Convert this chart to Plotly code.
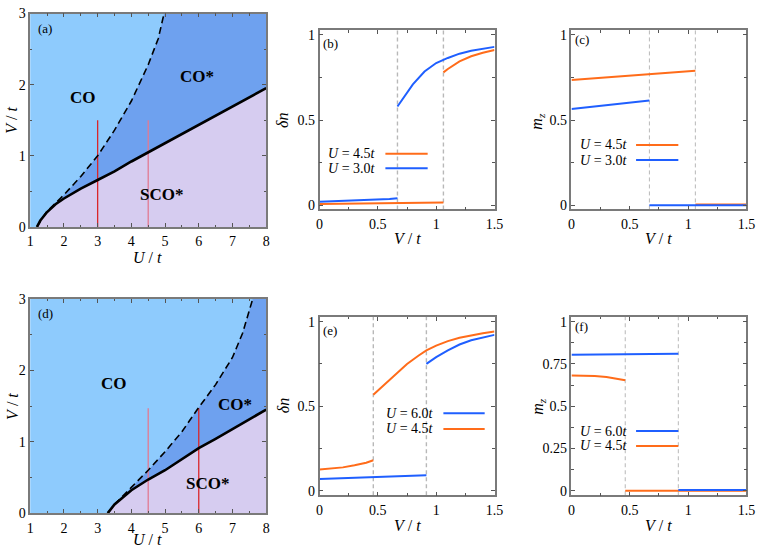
import plotly.graph_objects as go

# ---------------- Data ----------------
# Panel (a): phase boundaries, U/t vs V/t
a_solid_U = [1.2, 1.3, 1.5, 1.75, 2.0, 2.5, 3.0, 3.5, 4.0, 4.5, 5.0, 6.0, 7.0, 8.0]
a_solid_V = [0.0, 0.09, 0.21, 0.32, 0.40, 0.54, 0.66, 0.78, 0.92, 1.05, 1.17, 1.43, 1.69, 1.95]
a_dash_U = [1.2, 1.3, 1.5, 1.75, 2.0, 2.5, 3.0, 3.5, 4.0, 4.5, 4.8, 4.97]
a_dash_V = [0.0, 0.09, 0.22, 0.34, 0.45, 0.71, 1.0, 1.36, 1.77, 2.28, 2.65, 3.0]
a_cuts_U = [3.0, 4.5]
a_cut_Vmax = 1.5

# Panel (d): phase boundaries
d_solid_U = [3.3, 3.5, 4.0, 4.5, 5.0, 5.5, 6.0, 6.5, 7.0, 7.5, 8.0]
d_solid_V = [0.0, 0.12, 0.32, 0.47, 0.60, 0.76, 0.91, 1.04, 1.18, 1.32, 1.45]
d_dash_U = [3.3, 3.5, 4.0, 4.5, 5.0, 5.5, 6.0, 6.5, 7.0, 7.3, 7.6]
d_dash_V = [0.0, 0.12, 0.36, 0.60, 0.86, 1.14, 1.48, 1.80, 2.18, 2.52, 3.0]
d_cuts_U = [4.5, 6.0]
d_cut_Vmax = 1.47

# Panel (b): delta n vs V/t  (U=3.0t, U=4.5t)
b_Vc_30 = 0.668
b_Vc_45 = 1.062
b30_lo_V = [0.0, 0.2, 0.4, 0.6, 0.668]
b30_lo_dn = [0.020, 0.024, 0.029, 0.036, 0.040]
b30_hi_V = [0.668, 0.75, 0.8, 0.9, 1.0, 1.1, 1.2, 1.3, 1.4, 1.5]
b30_hi_dn = [0.580, 0.665, 0.710, 0.785, 0.835, 0.865, 0.890, 0.907, 0.920, 0.930]
b45_lo_V = [0.0, 0.5, 1.062]
b45_lo_dn = [0.007, 0.011, 0.015]
b45_hi_V = [1.062, 1.1, 1.2, 1.3, 1.4, 1.5]
b45_hi_dn = [0.780, 0.800, 0.845, 0.875, 0.895, 0.912]

# Panel (c): m_z vs V/t
c45_lo_V = [0.0, 0.5, 1.062]
c45_lo_m = [0.735, 0.760, 0.789]
c45_hi_V = [1.062, 1.5]
c45_hi_m = [0.004, 0.004]
c30_lo_V = [0.0, 0.3, 0.668]
c30_lo_m = [0.565, 0.588, 0.615]
c30_hi_V = [0.668, 1.5]
c30_hi_m = [0.0, 0.0]

# Panel (e): delta n vs V/t (U=6.0t, U=4.5t)
e_Vc_45 = 0.461
e_Vc_60 = 0.916
e45_lo_V = [0.0, 0.1, 0.2, 0.3, 0.4, 0.461]
e45_lo_dn = [0.125, 0.130, 0.138, 0.150, 0.165, 0.180]
e45_hi_V = [0.461, 0.55, 0.65, 0.75, 0.85, 0.916, 1.0, 1.1, 1.2, 1.3, 1.4, 1.5]
e45_hi_dn = [0.568, 0.625, 0.690, 0.750, 0.800, 0.830, 0.858, 0.885, 0.905, 0.920, 0.932, 0.942]
e60_lo_V = [0.0, 0.5, 0.916]
e60_lo_dn = [0.069, 0.080, 0.092]
e60_hi_V = [0.916, 1.0, 1.1, 1.2, 1.3, 1.4, 1.5]
e60_hi_dn = [0.750, 0.790, 0.830, 0.865, 0.890, 0.908, 0.922]

# Panel (f): m_z vs V/t
f60_lo_V = [0.0, 0.5, 0.916]
f60_lo_m = [0.804, 0.808, 0.810]
f60_hi_V = [0.916, 1.5]
f60_hi_m = [0.004, 0.004]
f45_lo_V = [0.0, 0.1, 0.2, 0.3, 0.4, 0.461]
f45_lo_m = [0.681, 0.681, 0.678, 0.672, 0.662, 0.653]
f45_hi_V = [0.461, 1.5]
f45_hi_m = [0.0, 0.0]

U_RANGE = [1, 8]
V_RANGE = [0, 3]

# ---------------- Style ----------------
FONT = "Liberation Serif"
C_CO = "#8ecbfd"
C_COS = "#6ea1ef"
C_SCO = "#d6ccf0"
ORANGE = "#ff6c1a"
BLUE = "#1f5fff"
RED = "#d9262a"
PINK = "#e27a92"
W, H = 764, 560


def px(x):
    return x / W


def py(y):
    return 1 - y / H


fig = go.Figure()

boxes = {
    1: ((26.7, 266.7), (6.7, 226.0)),
    2: ((321.0, 499.0), (24.0, 208.0)),
    3: ((577.3, 755.3), (24.0, 208.0)),
    4: ((26.7, 266.7), (300.0, 520.0)),
    5: ((321.0, 499.0), (318.3, 501.7)),
    6: ((577.3, 755.3), (318.3, 501.7)),
}


def axis_style(rng, dtick, minor_dtick, is_x):
    d = dict(
        range=rng, dtick=dtick, tick0=0,
        showline=True, linecolor="#7a7a7a", linewidth=1.5, mirror="allticks",
        ticks="inside", ticklen=4, tickwidth=1, tickcolor="#555555",
        showgrid=False, zeroline=False,
        tickfont=dict(family=FONT, size=14, color="black"),
        minor=dict(dtick=minor_dtick, tick0=0, ticks="inside", ticklen=2.5,
                   tickwidth=1, tickcolor="#555555", showgrid=False),
    )
    if is_x:
        d["ticklabelstandoff"] = 1
    return d


specs = {
    1: (U_RANGE, 1, 0.5, V_RANGE, 1, 0.5),
    2: ([0, 1.5], 0.5, 0.25, [-0.025, 1.027], 0.5, 0.25),
    3: ([0, 1.5], 0.5, 0.25, [-0.025, 1.027], 0.5, 0.25),
    4: (U_RANGE, 1, 0.5, V_RANGE, 1, 0.5),
    5: ([0, 1.5], 0.5, 0.25, [-0.027, 1.029], 0.5, 0.25),
    6: ([0, 1.5], 0.5, 0.25, [-0.027, 1.029], 0.25, 0.125),
}

layout_axes = {}
for i, ((x0, x1), (y0, y1)) in boxes.items():
    xr, xd, xm, yr, yd, ym = specs[i]
    xa = axis_style(xr, xd, xm, True)
    ya = axis_style(yr, yd, ym, False)
    xa.update(domain=[px(x0), px(x1)], anchor=f"y{'' if i == 1 else i}")
    ya.update(domain=[py(y1), py(y0)], anchor=f"x{'' if i == 1 else i}")
    layout_axes[f"xaxis{'' if i == 1 else i}"] = xa
    layout_axes[f"yaxis{'' if i == 1 else i}"] = ya


def ax(i):
    s = "" if i == 1 else str(i)
    return dict(xaxis="x" + s, yaxis="y" + s)


shapes = []
annotations = []


def note(x, y, text, size, xref="paper", yref="paper", xanchor="center", angle=0):
    annotations.append(dict(x=x, y=y, xref=xref, yref=yref, text=text, showarrow=False,
                            xanchor=xanchor, yanchor="middle", textangle=angle,
                            font=dict(family=FONT, size=size, color="black")))


# ---------- Phase diagrams ----------
for i, (sU, sV, dU, dV, cuts, cutV, cut_cols) in {
    1: (a_solid_U, a_solid_V, a_dash_U, a_dash_V, a_cuts_U, a_cut_Vmax, [RED, PINK]),
    4: (d_solid_U, d_solid_V, d_dash_U, d_dash_V, d_cuts_U, d_cut_Vmax, [PINK, RED]),
}.items():
    s = "" if i == 1 else str(i)
    shapes.append(dict(type="rect", xref=f"x{s} domain", yref=f"y{s} domain",
                       x0=0, x1=1, y0=0, y1=1, fillcolor=C_CO, line_width=0, layer="below"))
    fig.add_trace(go.Scatter(x=dU + [U_RANGE[1], U_RANGE[1]], y=dV + [V_RANGE[1], V_RANGE[0]],
                             fill="toself", fillcolor=C_COS, mode="none",
                             hoverinfo="skip", showlegend=False, **ax(i)))
    fig.add_trace(go.Scatter(x=sU, y=sV, fill="tozeroy", fillcolor=C_SCO, mode="none",
                             hoverinfo="skip", showlegend=False, **ax(i)))
    for u, col in zip(cuts, cut_cols):
        fig.add_trace(go.Scatter(x=[u, u], y=[0, cutV], mode="lines",
                                 line=dict(color=col, width=1.3),
                                 hoverinfo="skip", showlegend=False, **ax(i)))
    fig.add_trace(go.Scatter(x=dU, y=dV, mode="lines",
                             line=dict(color="black", width=1.6, dash="7px,4px"),
                             showlegend=False, **ax(i)))
    fig.add_trace(go.Scatter(x=sU, y=sV, mode="lines",
                             line=dict(color="black", width=2.6),
                             showlegend=False, **ax(i)))


def join(a1, a2):
    return a1 + [None] + a2


def line(i, xs, ys, col):
    fig.add_trace(go.Scatter(x=xs, y=ys, mode="lines", line=dict(color=col, width=2),
                             showlegend=False, **ax(i)))


# (b)
line(2, join(b45_lo_V, b45_hi_V), join(b45_lo_dn, b45_hi_dn), ORANGE)
line(2, join(b30_lo_V, b30_hi_V), join(b30_lo_dn, b30_hi_dn), BLUE)
# (c)
line(3, join(c45_lo_V, c45_hi_V), join(c45_lo_m, c45_hi_m), ORANGE)
line(3, join(c30_lo_V, c30_hi_V), join(c30_lo_m, c30_hi_m), BLUE)
# (e)
line(5, join(e60_lo_V, e60_hi_V), join(e60_lo_dn, e60_hi_dn), BLUE)
line(5, join(e45_lo_V, e45_hi_V), join(e45_lo_dn, e45_hi_dn), ORANGE)
# (f)
line(6, join(f45_lo_V, f45_hi_V), join(f45_lo_m, f45_hi_m), ORANGE)
line(6, join(f60_lo_V, f60_hi_V), join(f60_lo_m, f60_hi_m), BLUE)

# dashed transition markers
for i, vcs, w in [(2, [b_Vc_30, b_Vc_45], 1.4), (3, [b_Vc_30, b_Vc_45], 1.0),
                  (5, [e_Vc_45, e_Vc_60], 1.4), (6, [e_Vc_45, e_Vc_60], 1.0)]:
    for vc in vcs:
        shapes.append(dict(type="line", xref=f"x{i}", yref=f"y{i} domain",
                           x0=vc, x1=vc, y0=0, y1=1,
                           line=dict(color="#b8b8b8", width=w, dash="4px,3px"), layer="below"))

# legends (text left, line sample right)
leg = [
    (380, 388, 431, 150.7, "<i>U</i> = 4.5<i>t</i>", ORANGE),
    (380, 388, 431, 165.7, "<i>U</i> = 3.0<i>t</i>", BLUE),
    (637, 643, 686, 141.7, "<i>U</i> = 4.5<i>t</i>", ORANGE),
    (637, 643, 686, 157.3, "<i>U</i> = 3.0<i>t</i>", BLUE),
    (439, 447, 489, 417.5, "<i>U</i> = 6.0<i>t</i>", BLUE),
    (439, 447, 489, 433.5, "<i>U</i> = 4.5<i>t</i>", ORANGE),
    (637, 643, 686, 435.7, "<i>U</i> = 6.0<i>t</i>", BLUE),
    (637, 643, 686, 451.0, "<i>U</i> = 4.5<i>t</i>", ORANGE),
]
for tx, lx0, lx1, yy, txt, col in leg:
    note(px(tx), py(yy), txt, 14, xanchor="right")
    shapes.append(dict(type="line", xref="paper", yref="paper", x0=px(lx0), x1=px(lx1),
                       y0=py(yy), y1=py(yy), line=dict(color=col, width=2)))

# region labels
for i, lab, u, v in [(1, "CO", 2.56, 1.82), (1, "CO*", 5.96, 2.12), (1, "SCO*", 4.9, 0.46),
                     (4, "CO", 3.48, 1.82), (4, "CO*", 7.08, 1.52), (4, "SCO*", 6.25, 0.41)]:
    s = "" if i == 1 else str(i)
    note(u, v, f"<b>{lab}</b>", 17, xref="x" + s, yref="y" + s)

# panel labels
for lab, x, y in [("(a)", 42, 22), ("(b)", 332, 38), ("(c)", 588, 33),
                  ("(d)", 42, 315), ("(e)", 332, 332), ("(f)", 587, 328)]:
    note(px(x), py(y), lab, 13)

# axis titles
VT = "<i>V</i> / <i>t</i>"
UT = "<i>U</i> / <i>t</i>"
DN = "<i>δn</i>"
MZ = "<i>m</i><sub><i>z</i></sub>"
for txt, x, y, rot in [(UT, 146, 257, 0), (VT, 8, 116, -90),
                       (VT, 410, 238, 0), (DN, 284, 117, -90),
                       (VT, 666, 238, 0), (MZ, 543, 117, -90),
                       (UT, 146, 547, 0), (VT, 8, 410, -90),
                       (VT, 410, 533, 0), (DN, 284, 410, -90),
                       (VT, 666, 533, 0), (MZ, 543, 410, -90)]:
    note(px(x), py(y), txt, 16, angle=rot)

fig.update_layout(
    width=W, height=H,
    margin=dict(l=0, r=0, t=0, b=0),
    paper_bgcolor="white", plot_bgcolor="white",
    showlegend=False,
    shapes=shapes, annotations=annotations,
    font=dict(family=FONT, size=14, color="black"),
    **layout_axes,
)

fig.write_html("out.html", config={"displayModeBar": False},
               post_script="document.body.style.margin='0px';")
